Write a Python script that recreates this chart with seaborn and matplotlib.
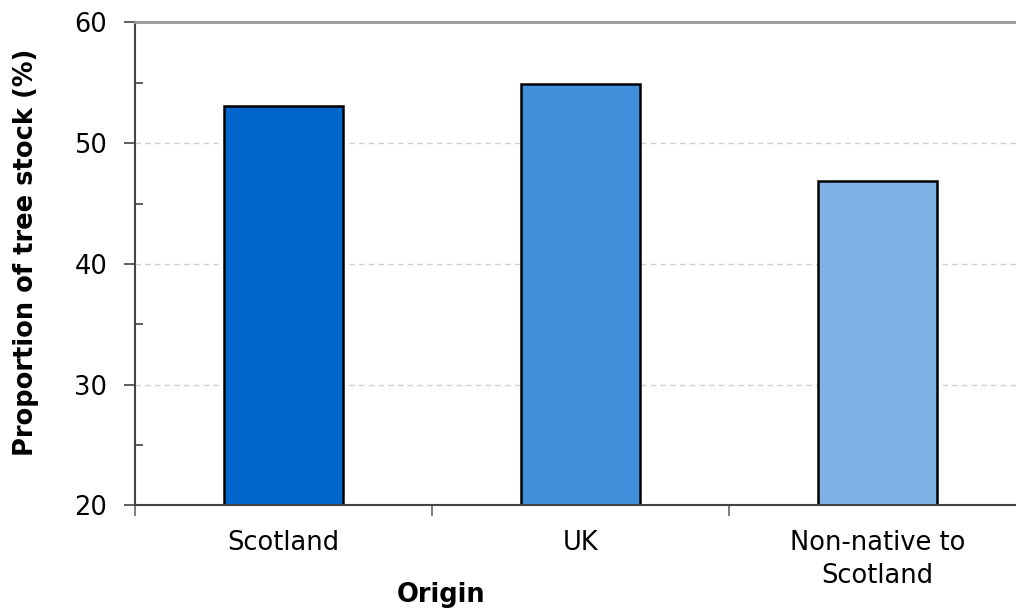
import numpy as np
import pandas as pd
import matplotlib
matplotlib.use("Agg")
import matplotlib.pyplot as plt
import seaborn as sns
from matplotlib.ticker import MultipleLocator, FixedLocator

# data
origins = ["Scotland", "UK", "Non-native to\nScotland"]
proportions = [53.1, 54.9, 46.9]
bar_colors = ["#0066CC", "#428FDB", "#7FB2E5"]

df = pd.DataFrame({"origin": origins, "value": proportions})

sns.set_style("white")
plt.rcParams["font.family"] = ["DejaVu Sans"]
plt.rcParams["text.color"] = "black"

fig = plt.figure(figsize=(10.16, 6.08), dpi=100)
# axes runs slightly past the right edge, as in the original
ax = fig.add_axes([0.133, 0.169, 0.877, 0.794])

sns.barplot(
    data=df, x="origin", y="value", hue="origin", palette=bar_colors,
    width=0.4, edgecolor="black", linewidth=1.8, legend=False, ax=ax,
    saturation=1,
)

ax.set_xlim(-0.5, 2.5)
ax.set_ylim(20, 60)
ax.yaxis.set_major_locator(MultipleLocator(10))
ax.yaxis.set_minor_locator(MultipleLocator(5))
ax.xaxis.set_minor_locator(FixedLocator([-0.5, 0.5, 1.5]))

ax.tick_params(axis="y", which="major", left=True, direction="out", length=8,
               width=1.2, color="#444444", labelsize=18.5, labelcolor="black",
               pad=12)
ax.tick_params(axis="y", which="minor", left=True, direction="in", length=6,
               width=1.2, color="#444444")
ax.tick_params(axis="x", which="major", length=0, labelsize=18.5,
               labelcolor="black", pad=18)
ax.tick_params(axis="x", which="minor", bottom=True, direction="out",
               length=8, width=1.2, color="#666666")
for lbl in ax.get_xticklabels():
    lbl.set_linespacing(1.35)

ax.yaxis.grid(True, which="major", linestyle=(0, (4, 3)), color="#D0D0D0",
              linewidth=1)
ax.set_axisbelow(True)

for side in ["left", "bottom"]:
    ax.spines[side].set_color("#444444")
    ax.spines[side].set_linewidth(1.5)
ax.spines["top"].set_color("#999999")
ax.spines["top"].set_linewidth(2)
ax.spines["right"].set_visible(False)

ax.set_xlabel("Origin", fontsize=18.5, fontweight="bold", color="black")
ax.set_ylabel("Proportion of tree stock (%)", fontsize=18.5,
              fontweight="bold", color="black")
ax.xaxis.set_label_coords(0.343, -0.158)
ax.yaxis.set_label_coords(-0.108, 0.524)

fig.savefig("out.png", dpi=100)
